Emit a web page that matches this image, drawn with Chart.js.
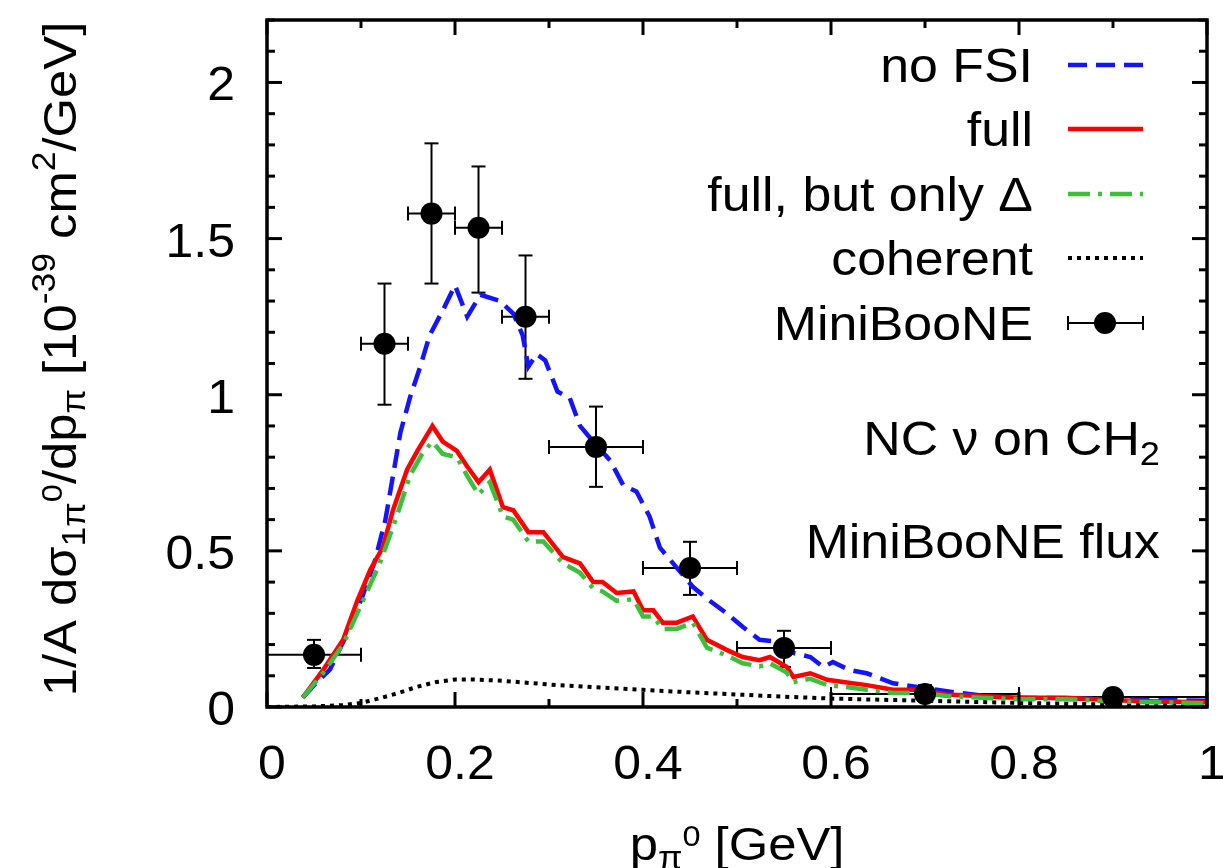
<!DOCTYPE html>
<html>
<head>
<meta charset="utf-8">
<script src="https://cdn.jsdelivr.net/npm/chart.js@4.4.1/dist/chart.umd.min.js"></script>
<style>
  html, body { margin: 0; padding: 0; background: #fff; }
  canvas { display: block; }
</style>
</head>
<body>
<canvas id="chart" width="1223" height="868"></canvas>
<script>
// --- curves (p in GeV, value in 10^-39 cm^2/GeV) ---
const noFsiP = [0.038, 0.05, 0.067, 0.086, 0.101, 0.115, 0.126, 0.134, 0.142, 0.152, 0.163, 0.173, 0.187, 0.200, 0.213, 0.227, 0.248, 0.262, 0.272, 0.278, 0.287, 0.296, 0.309, 0.322, 0.333, 0.347, 0.365, 0.379, 0.393, 0.407, 0.418, 0.432, 0.453, 0.471, 0.489, 0.506, 0.524, 0.542, 0.56, 0.578, 0.592, 0.602, 0.62, 0.638, 0.666, 0.70, 0.737, 0.77, 0.8, 0.85, 0.9, 0.95, 1.0];
const noFsiV = [0.03, 0.07, 0.12, 0.24, 0.35, 0.47, 0.60, 0.74, 0.88, 0.99, 1.09, 1.19, 1.27, 1.35, 1.25, 1.32, 1.30, 1.26, 1.19, 1.09, 1.13, 1.11, 1.01, 0.99, 0.90, 0.85, 0.79, 0.71, 0.69, 0.61, 0.51, 0.46, 0.385, 0.34, 0.30, 0.257, 0.215, 0.21, 0.173, 0.16, 0.128, 0.144, 0.118, 0.108, 0.076, 0.06, 0.045, 0.033, 0.03, 0.028, 0.025, 0.022, 0.02];

const fullP = [0.038, 0.06, 0.081, 0.096, 0.110, 0.123, 0.134, 0.149, 0.16, 0.176, 0.187, 0.202, 0.213, 0.225, 0.237, 0.251, 0.262, 0.278, 0.294, 0.315, 0.333, 0.347, 0.357, 0.372, 0.39, 0.40, 0.411, 0.421, 0.436, 0.453, 0.468, 0.489, 0.506, 0.524, 0.535, 0.553, 0.56, 0.578, 0.596, 0.613, 0.638, 0.666, 0.695, 0.723, 0.76, 0.8, 0.85, 0.9, 0.95, 1.0];
const fullV = [0.03, 0.12, 0.215, 0.34, 0.44, 0.51, 0.63, 0.76, 0.82, 0.90, 0.85, 0.82, 0.77, 0.72, 0.76, 0.64, 0.63, 0.56, 0.56, 0.48, 0.46, 0.40, 0.40, 0.365, 0.37, 0.31, 0.31, 0.27, 0.27, 0.29, 0.215, 0.183, 0.16, 0.15, 0.16, 0.128, 0.096, 0.108, 0.087, 0.08, 0.07, 0.055, 0.055, 0.04, 0.035, 0.03, 0.03, 0.022, 0.018, 0.015];

const deltaP = [0.038, 0.06, 0.081, 0.099, 0.12, 0.138, 0.152, 0.165, 0.176, 0.187, 0.202, 0.213, 0.225, 0.237, 0.251, 0.262, 0.278, 0.294, 0.315, 0.333, 0.347, 0.357, 0.372, 0.39, 0.40, 0.411, 0.421, 0.436, 0.453, 0.468, 0.489, 0.506, 0.524, 0.535, 0.553, 0.56, 0.578, 0.596, 0.613, 0.638, 0.666, 0.695, 0.723, 0.76, 0.8, 0.85, 0.9, 0.95, 1.0];
const deltaV = [0.03, 0.11, 0.20, 0.32, 0.46, 0.61, 0.74, 0.81, 0.85, 0.81, 0.80, 0.74, 0.68, 0.72, 0.61, 0.60, 0.53, 0.53, 0.46, 0.43, 0.38, 0.37, 0.34, 0.345, 0.29, 0.29, 0.25, 0.25, 0.27, 0.19, 0.165, 0.14, 0.13, 0.14, 0.11, 0.08, 0.09, 0.07, 0.065, 0.055, 0.045, 0.045, 0.035, 0.03, 0.025, 0.025, 0.018, 0.015, 0.012];

const cohP = [0, 0.05, 0.08, 0.10, 0.12, 0.14, 0.16, 0.18, 0.20, 0.22, 0.25, 0.3, 0.35, 0.4, 0.45, 0.5, 0.55, 0.6, 0.7, 0.8, 0.9, 1.0];
const cohV = [0, 0.002, 0.006, 0.013, 0.028, 0.045, 0.065, 0.08, 0.088, 0.088, 0.084, 0.072, 0.063, 0.055, 0.047, 0.04, 0.033, 0.027, 0.02, 0.013, 0.008, 0.005];

// --- MiniBooNE data with error bars ---
const dataP   = [0.05, 0.125, 0.175, 0.225, 0.275, 0.35, 0.45, 0.55, 0.70, 0.90];
const dataV   = [0.167, 1.163, 1.580, 1.535, 1.250, 0.833, 0.445, 0.189, 0.042, 0.032];
const dataPLo = [0.0, 0.1, 0.15, 0.2, 0.25, 0.3, 0.4, 0.5, 0.6, 0.8];
const dataPHi = [0.1, 0.15, 0.2, 0.25, 0.3, 0.4, 0.5, 0.6, 0.8, 1.0];
const dataVLo = [0.125, 0.968, 1.356, 1.327, 1.051, 0.705, 0.359, 0.128, 0.02, 0.025];
const dataVHi = [0.215, 1.356, 1.805, 1.731, 1.446, 0.962, 0.529, 0.244, 0.07, 0.04];

// --- ticks / labels ---
const xTicks = [0, 0.2, 0.4, 0.6, 0.8, 1];
const xTickLabels = ['0', '0.2', '0.4', '0.6', '0.8', '1'];
const yTicks = [0, 0.5, 1, 1.5, 2];
const yTickLabels = ['0', '0.5', '1', '1.5', '2'];
const legendLabels = ['no FSI', 'full', 'full, but only \u0394', 'coherent', 'MiniBooNE'];

const FONT = '"Liberation Sans", Arial, sans-serif';
const KIND = { n: [1, 0], sub: [0.7, 0.2], sup: [0.7, -0.45], sup0: [0.64, -0.3] };

function toXY(ps, vs) {
    return ps.map((p, i) => ({ x: p, y: vs[i] }));
}

// draws text made of [string, kind] pieces, y is the baseline
function richText(ctx, segs, x, y, size, align, sx) {
    let w = 0;
    segs.forEach(([t, k]) => {
        ctx.font = `${size * KIND[k][0]}px ${FONT}`;
        w += ctx.measureText(t).width;
    });
    w *= sx;
    const start = align === 'right' ? x - w : align === 'center' ? x - w / 2 : x;
    ctx.save();
    ctx.translate(start, y);
    ctx.scale(sx, 1);
    ctx.textAlign = 'left';
    ctx.textBaseline = 'alphabetic';
    ctx.fillStyle = '#000';
    let cx = 0;
    segs.forEach(([t, k]) => {
        ctx.font = `${size * KIND[k][0]}px ${FONT}`;
        ctx.fillText(t, cx, KIND[k][1] * size);
        cx += ctx.measureText(t).width;
    });
    ctx.restore();
}

function line(ctx, x1, y1, x2, y2) {
    ctx.beginPath();
    ctx.moveTo(x1, y1);
    ctx.lineTo(x2, y2);
    ctx.stroke();
}

// --- frame, ticks, labels, legend, error bars ---
const decor = {
    id: 'decor',
    beforeDatasetsDraw(chart) {
        const { ctx } = chart;
        const xs = chart.scales.x, ys = chart.scales.y;
        // error bars under the dots
        ctx.save();
        ctx.strokeStyle = '#000';
        ctx.lineWidth = 2;
        dataP.forEach((p, i) => {
            const px = xs.getPixelForValue(p), py = ys.getPixelForValue(dataV[i]);
            const xl = xs.getPixelForValue(dataPLo[i]), xr = xs.getPixelForValue(dataPHi[i]);
            const yt = ys.getPixelForValue(dataVHi[i]), yb = ys.getPixelForValue(dataVLo[i]);
            line(ctx, xl, py, xr, py);
            line(ctx, xl, py - 7, xl, py + 7);
            line(ctx, xr, py - 7, xr, py + 7);
            line(ctx, px, yt, px, yb);
            line(ctx, px - 7, yt, px + 7, yt);
            line(ctx, px - 7, yb, px + 7, yb);
        });
        ctx.restore();
    },
    afterDatasetsDraw(chart) {
        const { ctx, chartArea: a } = chart;
        const xs = chart.scales.x, ys = chart.scales.y;
        ctx.save();
        ctx.strokeStyle = '#000';
        ctx.lineWidth = 3.5;
        ctx.strokeRect(a.left, a.top, a.right - a.left, a.bottom - a.top);

        // inward ticks on all four sides
        ctx.lineWidth = 3;
        for (let k = 0; k <= 10; k++) {
            const v = k / 10;
            const len = k % 2 === 0 ? 15 : 8;
            const px = xs.getPixelForValue(v);
            line(ctx, px, a.bottom, px, a.bottom - len);
            line(ctx, px, a.top, px, a.top + len);
        }
        for (let k = 0; k <= 22; k++) {
            const v = k / 10;
            const len = k % 5 === 0 ? 15 : 8;
            const py = ys.getPixelForValue(v);
            line(ctx, a.left, py, a.left + len, py);
            line(ctx, a.right, py, a.right - len, py);
        }

        // tick labels
        xTicks.forEach((v, i) => {
            richText(ctx, [[xTickLabels[i], 'n']], xs.getPixelForValue(v) + 5, 779, 48, 'center', 1.04);
        });
        yTicks.forEach((v, i) => {
            richText(ctx, [[yTickLabels[i], 'n']], 235, ys.getPixelForValue(v) + 18, 48, 'right', 1.04);
        });

        // axis titles
        richText(ctx, [['p', 'n'], ['\u03c0', 'sub'], ['0', 'sup0'], [' [GeV]', 'n']],
            (a.left + a.right) / 2, 860, 47, 'center', 1.08);
        ctx.save();
        ctx.translate(76, 359);
        ctx.rotate(-Math.PI / 2);
        richText(ctx, [['1/A d\u03c3', 'n'], ['1\u03c0', 'sub'], ['0', 'sup0'], ['/dp', 'n'], ['\u03c0', 'sub'],
            [' [10', 'n'], ['-39', 'sup'], [' cm', 'n'], ['2', 'sup'], ['/GeV]', 'n']],
            0, 0, 47, 'center', 1.08);
        ctx.restore();

        // legend
        const rowY = [65, 129, 194, 258, 323];
        chart.data.datasets.slice(0, 4).forEach((ds, i) => {
            richText(ctx, [[legendLabels[i], 'n']], 1033, rowY[i] + 17, 48, 'right', 1.08);
            ctx.save();
            ctx.strokeStyle = ds.borderColor;
            ctx.lineWidth = ds.borderWidth;
            ctx.setLineDash(ds.borderDash || []);
            line(ctx, 1068, rowY[i], 1143, rowY[i]);
            ctx.restore();
        });
        richText(ctx, [[legendLabels[4], 'n']], 1033, rowY[4] + 17, 48, 'right', 1.08);
        ctx.lineWidth = 2;
        line(ctx, 1068, rowY[4], 1143, rowY[4]);
        line(ctx, 1068, rowY[4] - 7, 1068, rowY[4] + 7);
        line(ctx, 1143, rowY[4] - 7, 1143, rowY[4] + 7);
        ctx.fillStyle = '#000';
        ctx.beginPath();
        ctx.arc(1105, rowY[4], 11, 0, Math.PI * 2);
        ctx.fill();

        // annotations
        richText(ctx, [['NC \u03bd on CH', 'n'], ['2', 'sub']], 1160, 455, 48, 'right', 1.08);
        richText(ctx, [['MiniBooNE flux', 'n']], 1160, 558, 48, 'right', 1.08);
        ctx.restore();
    }
};

const ctx = document.getElementById('chart').getContext('2d');
new Chart(ctx, {
    type: 'scatter',
    data: {
        datasets: [
            {
                label: 'no FSI',
                data: toXY(noFsiP, noFsiV),
                showLine: true,
                borderColor: '#1414ff',
                borderWidth: 4.5,
                borderDash: [19, 9],
                pointRadius: 0,
                order: 4
            },
            {
                label: 'full',
                data: toXY(fullP, fullV),
                showLine: true,
                borderColor: '#ff0000',
                borderWidth: 4.5,
                pointRadius: 0,
                order: 2
            },
            {
                label: 'full, but only Delta',
                data: toXY(deltaP, deltaV),
                showLine: true,
                borderColor: '#3cbf3c',
                borderWidth: 4.5,
                borderDash: [22, 8, 4, 8],
                pointRadius: 0,
                order: 1
            },
            {
                label: 'coherent',
                data: toXY(cohP, cohV),
                showLine: true,
                borderColor: '#000000',
                borderWidth: 4,
                borderDash: [4, 5],
                pointRadius: 0,
                order: 3
            },
            {
                label: 'MiniBooNE',
                data: toXY(dataP, dataV),
                showLine: false,
                backgroundColor: '#000000',
                borderWidth: 0,
                pointRadius: 11,
                order: 0
            }
        ]
    },
    options: {
        responsive: false,
        animation: false,
        layout: { padding: { left: 267, right: 16, top: 20, bottom: 161 } },
        plugins: {
            legend: { display: false },
            tooltip: { enabled: false }
        },
        scales: {
            x: { type: 'linear', min: 0, max: 1, display: false },
            y: { type: 'linear', min: 0, max: 2.2, display: false }
        }
    },
    plugins: [decor]
});
</script>
</body>
</html>
